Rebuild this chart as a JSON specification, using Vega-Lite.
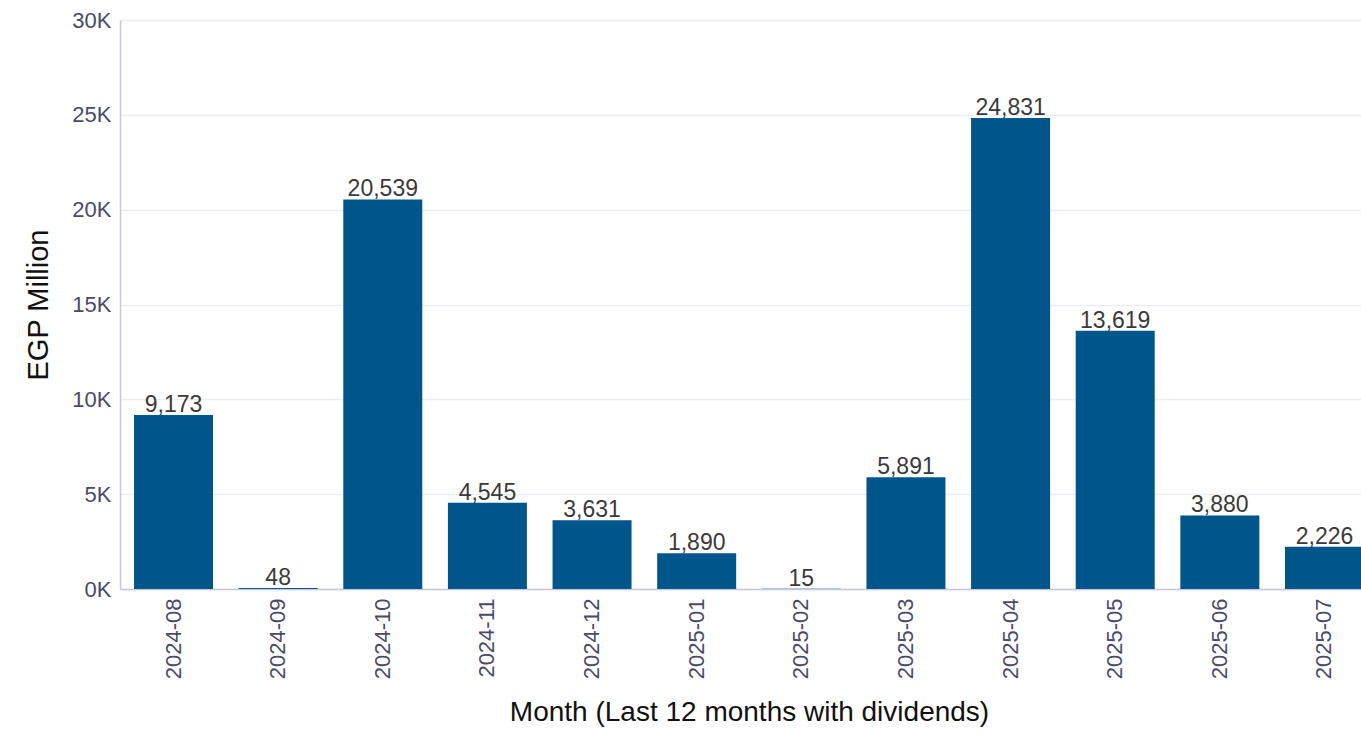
{
  "$schema": "https://vega.github.io/schema/vega-lite/v6.json",
  "width": 1258,
  "height": 569,
  "autosize": "none",
  "padding": {"left": 120, "top": 20, "right": 0, "bottom": 149},
  "background": "white",
  "config": {
    "font": "Liberation Sans",
    "view": {"stroke": null}
  },
  "data": {
    "values": [
      {"month": "2024-08", "value": 9173},
      {"month": "2024-09", "value": 48},
      {"month": "2024-10", "value": 20539},
      {"month": "2024-11", "value": 4545},
      {"month": "2024-12", "value": 3631},
      {"month": "2025-01", "value": 1890},
      {"month": "2025-02", "value": 15},
      {"month": "2025-03", "value": 5891},
      {"month": "2025-04", "value": 24831},
      {"month": "2025-05", "value": 13619},
      {"month": "2025-06", "value": 3880},
      {"month": "2025-07", "value": 2226}
    ]
  },
  "encoding": {
    "x": {
      "field": "month",
      "type": "nominal",
      "sort": null,
      "scale": {"paddingInner": 0.245, "paddingOuter": 0.134},
      "axis": {
        "title": "Month (Last 12 months with dividends)",
        "titleFontSize": 28,
        "titleFontWeight": "normal",
        "titleColor": "#111111",
        "titlePadding": 20,
        "labelAngle": -90,
        "labelFontSize": 22,
        "labelColor": "#4a4a68",
        "labelPadding": 9,
        "ticks": false,
        "domainColor": "#c8c8dc",
        "domainWidth": 1.5,
        "grid": false
      }
    },
    "y": {
      "field": "value",
      "type": "quantitative",
      "scale": {"domain": [0, 30000], "nice": false},
      "axis": {
        "title": "EGP Million",
        "titleFontSize": 29,
        "titleFontWeight": "normal",
        "titleColor": "#111111",
        "titlePadding": 18,
        "values": [0, 5000, 10000, 15000, 20000, 25000, 30000],
        "labelExpr": "(datum.value / 1000) + 'K'",
        "labelFontSize": 22,
        "labelColor": "#4a4a68",
        "labelPadding": 9,
        "ticks": false,
        "domainColor": "#c8c8dc",
        "domainWidth": 1.5,
        "gridColor": "#ececf2",
        "gridWidth": 1.5
      }
    }
  },
  "layer": [
    {"mark": {"type": "bar", "color": "#00568a"}},
    {
      "mark": {"type": "text", "baseline": "alphabetic", "dy": -3, "fontSize": 23, "color": "#3a3a3a"},
      "encoding": {"text": {"field": "value", "type": "quantitative", "format": ","}}
    }
  ]
}
